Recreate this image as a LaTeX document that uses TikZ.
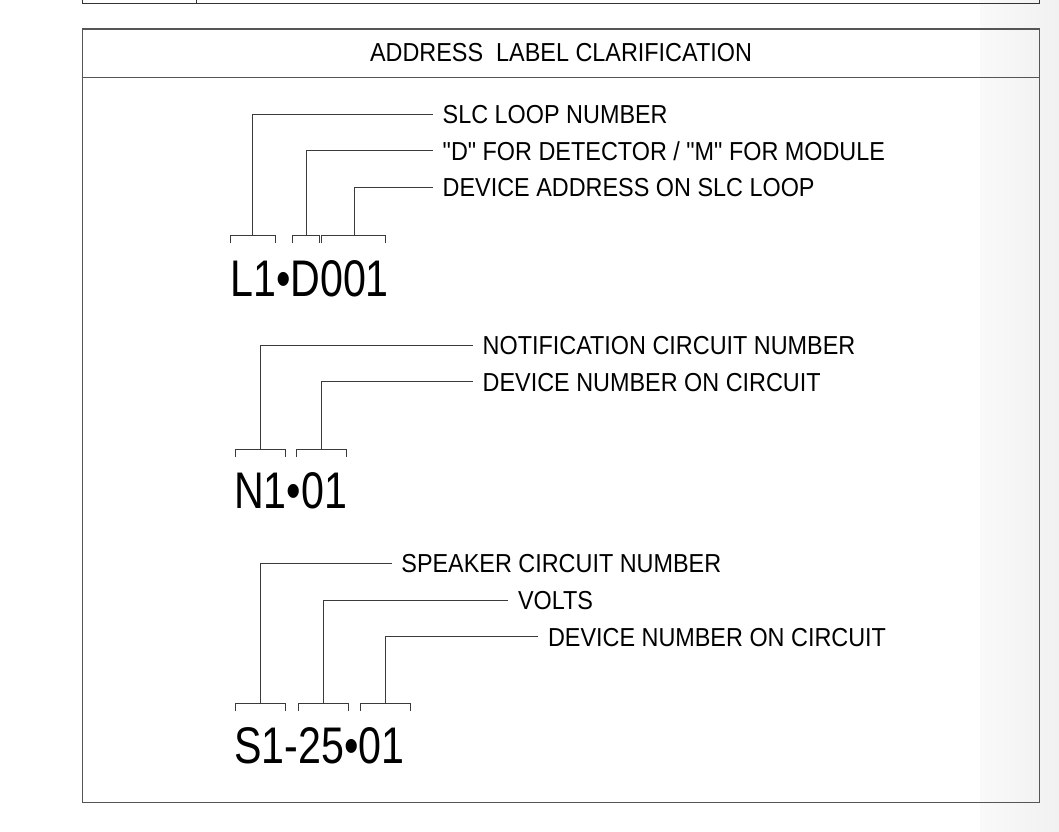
\documentclass[tikz,border=0pt]{standalone}
\usepackage{fontspec}
\setmainfont{Liberation Sans}
\newfontfamily\labfont[FakeStretch=0.9]{Liberation Sans}
\newfontfamily\bigfont[FakeStretch=0.8]{Liberation Sans}
\usetikzlibrary{calc}
\definecolor{boxline}{HTML}{555555}
\definecolor{leadline}{HTML}{3A3A3A}
\definecolor{shadeA}{HTML}{F9F9F9}
\definecolor{shadeB}{HTML}{F1F1F1}
\tikzset{
  lab/.style={font=\labfont\fontsize{26}{26}\selectfont, anchor=west, inner xsep=9.5pt, inner ysep=0pt, text height=18.6pt, text depth=0pt},
  bigtxt/.style={font=\bigfont\fontsize{51.5}{52}\selectfont, anchor=base west, inner sep=0pt},
  brk/.style={draw=leadline, line width=1pt},
  lead/.style={draw=leadline, line width=1pt},
  frame/.style={draw=boxline, line width=1.5pt},
}
\newcommand\mybrk[3]{\draw[brk] (#1,#3+7.5) -- (#1,#3) -- (#2,#3) -- (#2,#3+7.5);}
\begin{document}
\begin{tikzpicture}[x=1pt,y=-1pt]
\useasboundingbox (0,0) rectangle (1059,831);
\shade[left color=shadeA, right color=shadeB] (980,0) rectangle (1059,831);
% top box remnant
\draw[frame, draw=black!80] (82.7,0) -- (82.7,3.3) -- (1039.3,3.3) -- (1039.3,0);
\draw[frame, draw=black!80] (196.7,0) -- (196.7,3.3);
% main box
\draw[frame] (82.7,29) rectangle (1039.3,802.7);
\draw[frame] (82.7,77.3) -- (1039.3,77.3);
\node[lab, anchor=base, inner xsep=0pt] (title) at (561,61.7) {ADDRESS\ \ LABEL CLARIFICATION};

% ---- Section 1 ----
\node[bigtxt] (big1) at (230,296) {L1•D001};
\mybrk{230}{275}{235.7}
\mybrk{292.7}{319}{235.7}
\mybrk{321.7}{385.7}{235.7}
\coordinate (r11) at (252.5,235.7);
\coordinate (r12) at (306,235.7);
\coordinate (r13) at (354,235.7);
\node[lab] (t11) at (433,114.3) {SLC LOOP NUMBER};
\node[lab] (t12) at (433,150.7) {"D" FOR DETECTOR / "M" FOR MODULE};
\node[lab] (t13) at (433,187.3) {DEVICE ADDRESS ON SLC LOOP};
\draw[lead] (r11) |- (t11.west);
\draw[lead] (r12) |- (t12.west);
\draw[lead] (r13) |- (t13.west);

% ---- Section 2 ----
\node[bigtxt] (big2) at (234,508) {N1•01};
\mybrk{235}{285}{449}
\mybrk{296.7}{346.7}{449}
\coordinate (r21) at (260,449);
\coordinate (r22) at (321.7,449);
\node[lab] (t21) at (473,345) {NOTIFICATION CIRCUIT NUMBER};
\node[lab] (t22) at (473,381.7) {DEVICE NUMBER ON CIRCUIT};
\draw[lead] (r21) |- (t21.west);
\draw[lead] (r22) |- (t22.west);

% ---- Section 3 ----
\node[bigtxt] (big3) at (234,763.3) {S1-25•01};
\mybrk{235}{285}{703.3}
\mybrk{298.3}{348.3}{703.3}
\mybrk{360}{410}{703.3}
\coordinate (r31) at (260,703.3);
\coordinate (r32) at (323.3,703.3);
\coordinate (r33) at (385,703.3);
\node[lab] (t31) at (391.7,563.3) {SPEAKER CIRCUIT NUMBER};
\node[lab] (t32) at (508.3,600) {VOLTS};
\node[lab] (t33) at (538.3,636.7) {DEVICE NUMBER ON CIRCUIT};
\draw[lead] (r31) |- (t31.west);
\draw[lead] (r32) |- (t32.west);
\draw[lead] (r33) |- (t33.west);
\end{tikzpicture}
\end{document}
